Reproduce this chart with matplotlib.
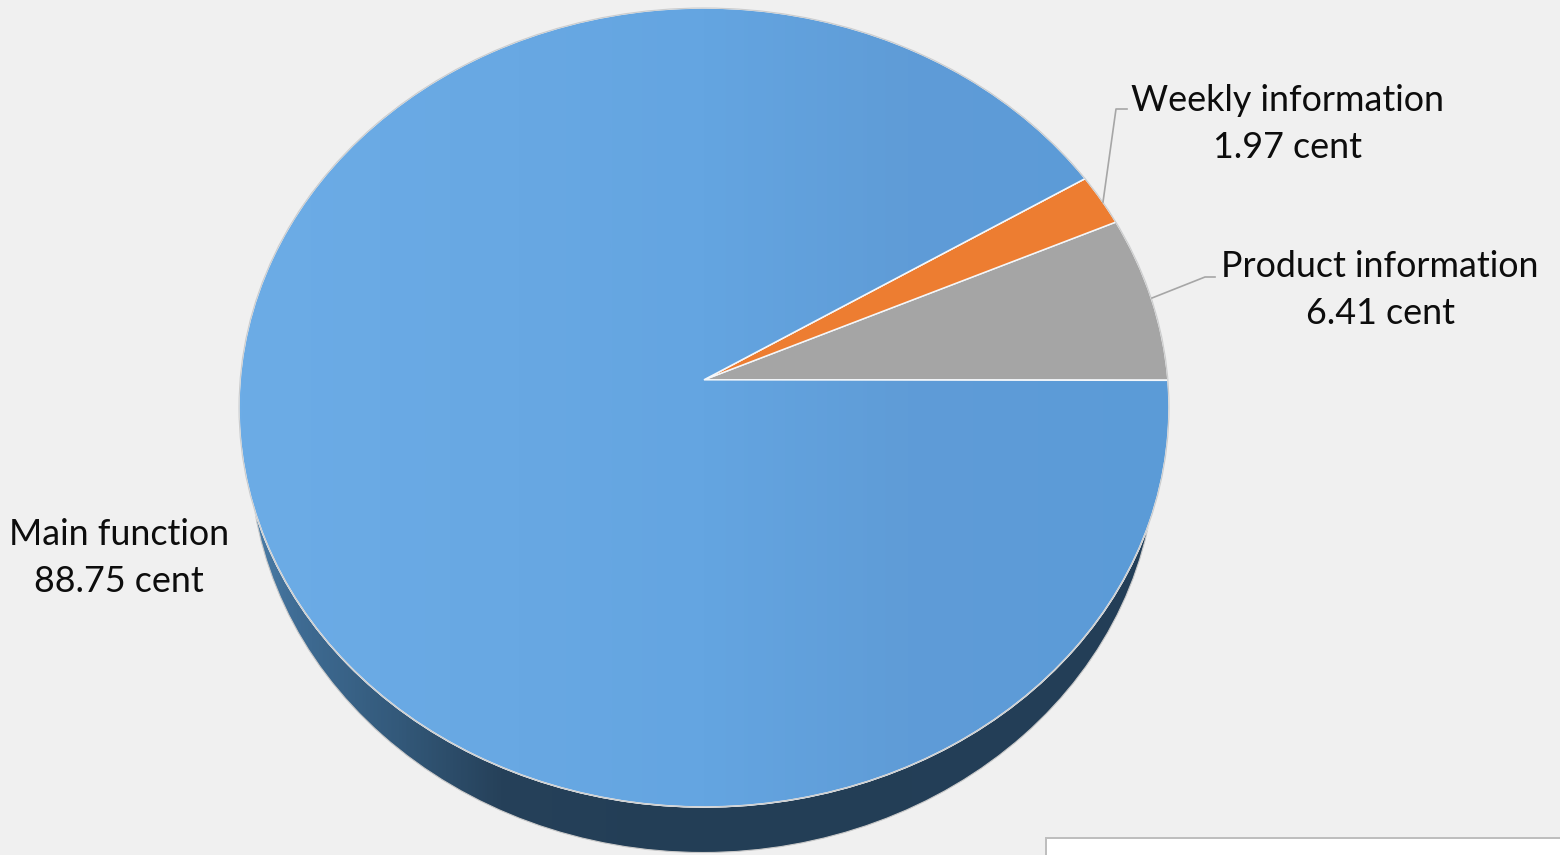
import numpy as np
import matplotlib
matplotlib.use("Agg")
import matplotlib.pyplot as plt
from matplotlib.colors import LinearSegmentedColormap
from matplotlib.lines import Line2D
from matplotlib.patches import Ellipse, PathPatch, Rectangle
from matplotlib.path import Path

categories = ["Product information", "Weekly information", "Main function"]
values = [6.41, 1.97, 88.75]
unit = "cent"
colors = ["#A5A5A5", "#ED7D31", "#5B9BD5"]

W, H = 1560, 855
plt.rcParams["font.family"] = ["Lato", "DejaVu Sans"]
fig = plt.figure(figsize=(W / 100, H / 100), dpi=100, facecolor="#F0F0F0")


def px(x, y):
    return x / W, 1 - y / H


# Axes frame equals the bounding box of the elliptical pie top
left, right, top, bottom = 239, 1169, 8, 807
ax = fig.add_axes([left / W, 1 - bottom / H, (right - left) / W, (bottom - top) / H])
wedges, _ = ax.pie(values, colors=colors, startangle=3.9, counterclock=True, radius=1)
ax.set_aspect("auto")

# Side wall
side_cmap = LinearSegmentedColormap.from_list(
    "side",
    [(0, "#4F82AD"), (0.06, "#3F6C94"), (0.17, "#33597A"), (0.28, "#26415A"),
     (0.45, "#233E56"), (1, "#243F58")],
)
grad = np.linspace(0, 1, 512).reshape(1, -1)
side = Ellipse((-1 / 465, -45.5 / 399.5), 2 * 453 / 465, 2, fc="none", ec="none", zorder=0.5)
ax.add_patch(side)
im_side = ax.imshow(grad, extent=(-1, 1, -1.3, 1.3), aspect="auto", cmap=side_cmap, zorder=0.6)
im_side.set_clip_path(side)
im_side.set_clip_box(fig.bbox)
side_edge = Ellipse((-1 / 465, -45.5 / 399.5), 2 * 453 / 465, 2, fc="none", ec="#C9C9C9",
                    lw=0.8, zorder=0.7, clip_on=False)
ax.add_patch(side_edge)

# Slices: the perspective moves the apex above the ellipse centre
apex = np.array([0.0, (407.5 - 379.8) / 399.5])
tops = []
for w, c in zip(wedges, colors):
    p = w.get_path()
    v = p.vertices.copy()
    v[np.hypot(v[:, 0], v[:, 1]) < 1e-6] = apex
    w.set_visible(False)
    patch = PathPatch(Path(v, p.codes), fc=c, ec="#F4F7FA", lw=1.1, zorder=2, clip_on=False)
    ax.add_patch(patch)
    tops.append(patch)

top_cmap = LinearSegmentedColormap.from_list(
    "top",
    [(0, "#6CACE6"), (0.3, "#68A8E3"), (0.5, "#64A5E1"), (0.72, "#5F9CD7"), (1, "#5B9BD8")],
)
im_top = ax.imshow(grad, extent=(-1, 1, -1.1, 1.1), aspect="auto", cmap=top_cmap, zorder=2.1)
clip_patch = PathPatch(tops[2].get_path(), fc="none", ec="none", transform=ax.transData)
ax.add_patch(clip_patch)
im_top.set_clip_path(clip_patch)
blue_edge = PathPatch(tops[2].get_path(), fc="none", ec="#F4F7FA", lw=1.1, zorder=2.2, clip_on=False)
ax.add_patch(blue_edge)
ring = Ellipse((0, 0), 2, 2, fc="none", ec="#CDCDCD", lw=0.9, zorder=2.3, clip_on=False)
ax.add_patch(ring)

ax.set_xlim(-1, 1)
ax.set_ylim(-1, 1)
ax.axis("off")

# Labels
label_pos = {0: (1380, 290), 1: (1287.5, 124), 2: (119, 558)}
for i, name in enumerate(categories):
    x, y = px(*label_pos[i])
    fig.text(x, y, f"{name}\n{values[i]} {unit}", ha="center", va="center",
             fontsize=25.8, color="#0D0D0D", linespacing=1.55)

# Leader lines
for pts in ([(1103, 202), (1116, 109), (1127, 109)], [(1152, 298), (1205, 277), (1215, 277)]):
    xs, ys = zip(*[px(*q) for q in pts])
    fig.add_artist(Line2D(xs, ys, color="#A6A6A6", lw=1.2, transform=fig.transFigure))

# White box cut by the lower edge
x0, y0 = px(1045.5, 856)
x1, y1 = px(1562, 837.5)
fig.add_artist(Rectangle((x0, y0), x1 - x0, y1 - y0, fc="white", ec="#BDBDBD", lw=1.4,
                         transform=fig.transFigure))

fig.savefig("out.png", dpi=100, facecolor=fig.get_facecolor())
